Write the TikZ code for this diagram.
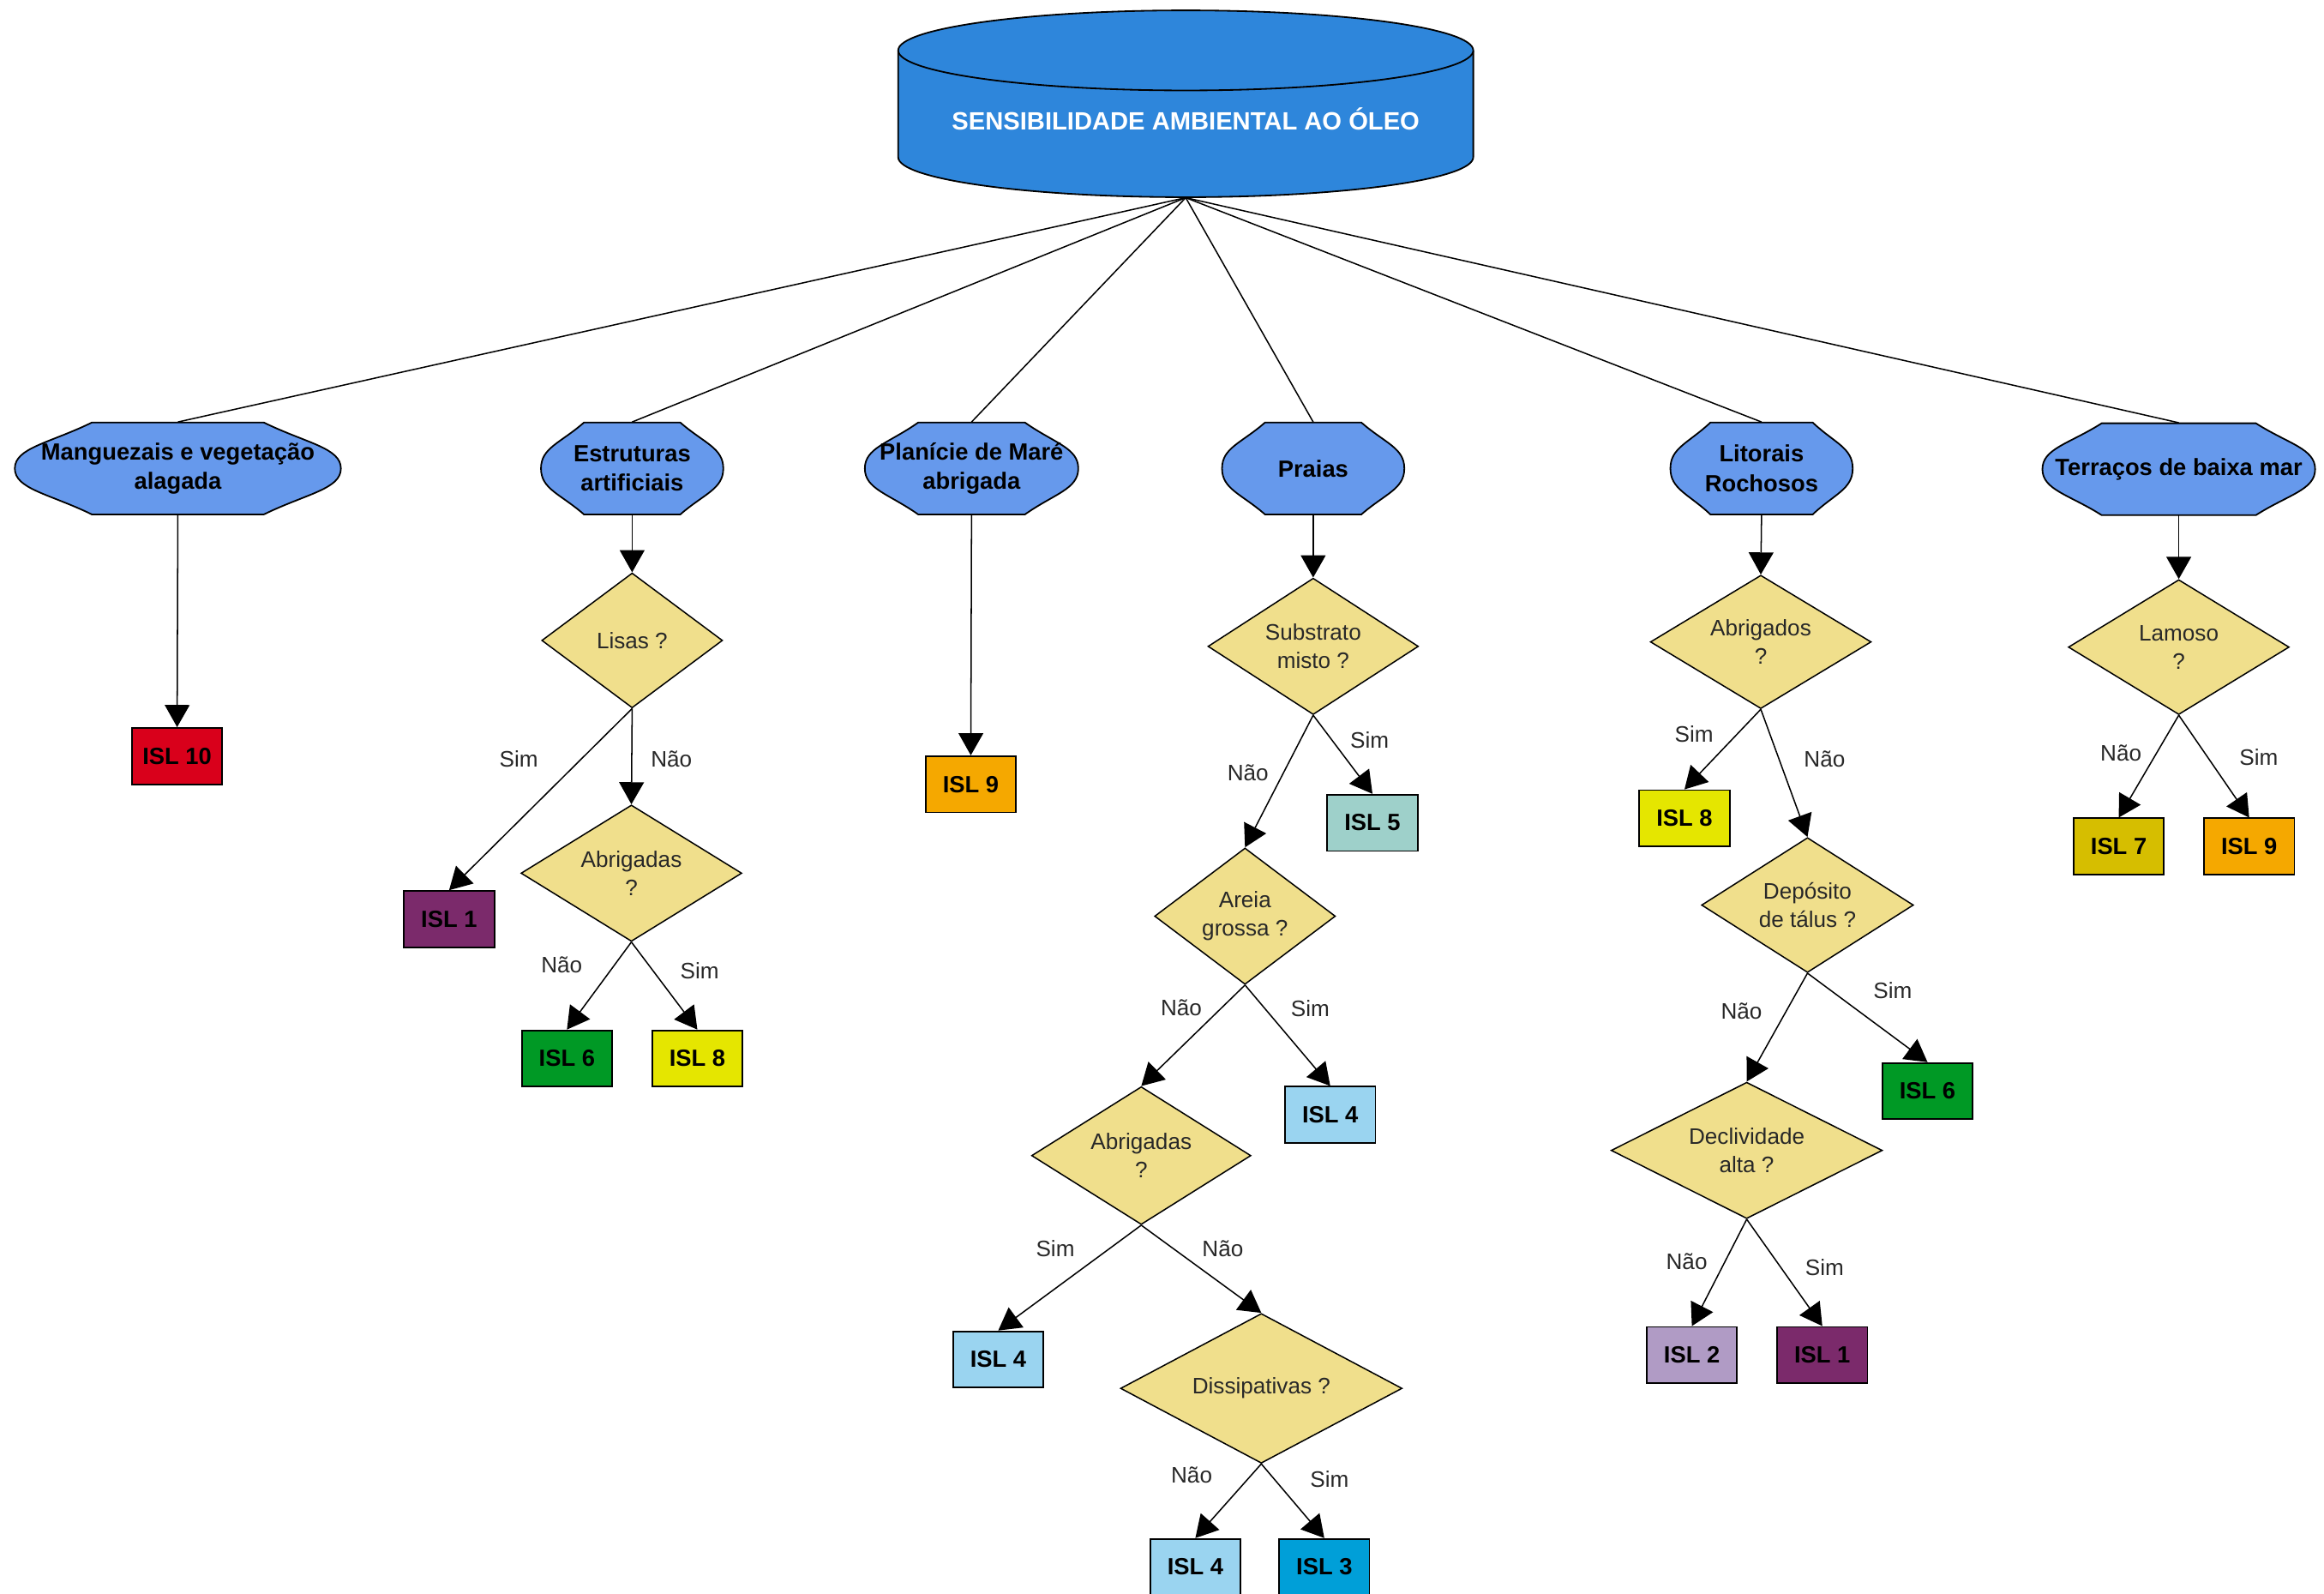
\documentclass[tikz,border=0pt]{standalone}
\usepackage{fontspec}
\setmainfont{Liberation Sans}
\usetikzlibrary{shapes.geometric,arrows.meta}
\definecolor{cyl}{RGB}{46,134,219}
\definecolor{lvl}{RGB}{102,153,236}
\definecolor{dia}{RGB}{240,223,140}
\definecolor{cred}{RGB}{217,0,27}
\definecolor{cpurple}{RGB}{123,42,107}
\definecolor{cgreen}{RGB}{0,153,37}
\definecolor{cyellow}{RGB}{229,230,0}
\definecolor{corange}{RGB}{245,168,0}
\definecolor{cteal}{RGB}{158,208,202}
\definecolor{clblue}{RGB}{154,212,240}
\definecolor{cblue}{RGB}{0,159,216}
\definecolor{clav}{RGB}{176,155,197}
\definecolor{cdyellow}{RGB}{214,190,0}
\definecolor{txtgray}{RGB}{40,40,40}

\newcommand\hexpath[5]{%
 \filldraw[hexshape] (#1-#3+#5,#2-#4) -- (#1+#3-#5,#2-#4)
   .. controls (#1+#3-#5*0.45,#2-#4*0.55) and (#1+#3,#2-#4*0.45) .. (#1+#3,#2)
   .. controls (#1+#3,#2+#4*0.45) and (#1+#3-#5*0.45,#2+#4*0.55) .. (#1+#3-#5,#2+#4)
   -- (#1-#3+#5,#2+#4)
   .. controls (#1-#3+#5*0.45,#2+#4*0.55) and (#1-#3,#2+#4*0.45) .. (#1-#3,#2)
   .. controls (#1-#3,#2-#4*0.45) and (#1-#3+#5*0.45,#2-#4*0.55) .. cycle;}

\tikzset{
 hexshape/.style={draw=black, fill=lvl, line width=0.6pt},
 lvltext/.style={inner sep=0pt, align=center, font=\fontsize{9}{11.3}\selectfont\bfseries},
 hsz/.style={minimum width=#1*0.02cm, minimum height=62*0.02cm},
 question/.style={diamond, draw=black, fill=dia, line width=0.5pt, aspect=1.6, inner sep=0pt, align=center, text=txtgray, font=\fontsize{8.6}{10.8}\selectfont},
 dsz/.style 2 args={minimum width=#1*0.02cm, minimum height=#2*0.02cm},
 islbox/.style={rectangle, draw=black, line width=0.6pt, minimum width=1.22cm, minimum height=0.76cm, inner sep=0pt, font=\fontsize{9}{11}\selectfont\bfseries},
 lbl/.style={inner sep=0pt, text=txtgray, font=\fontsize{8.6}{10}\selectfont},
 conn/.style={line width=0.5pt},
 arr/.style={line width=0.5pt, -{Triangle[length=8.5pt,width=9.5pt]}},
}

\begin{document}
\begin{tikzpicture}[x=0.02cm,y=-0.02cm]
\fill[white] (0,0) rectangle (1568,1075);
\useasboundingbox (0,0) rectangle (1568,1075);

% cylinder
\fill[cyl] (606,34) -- (606,106) arc[start angle=180,end angle=0,x radius=194,y radius=27] -- (994,34) -- cycle;
\draw[line width=0.6pt] (606,34) -- (606,106) arc[start angle=180,end angle=0,x radius=194,y radius=27] -- (994,34);
\filldraw[fill=cyl, line width=0.6pt] (800,34) ellipse [x radius=194, y radius=27];
\node[inner sep=0pt, text=white, font=\fontsize{9.6}{11}\selectfont\bfseries, minimum width=388*0.02cm, minimum height=106*0.02cm] (top) at (800,80) {SENSIBILIDADE AMBIENTAL AO ÓLEO};

% level 1
\hexpath{120}{316}{110}{31}{52}
\node[lvltext, hsz=220] (mang) at (120,316) {Manguezais e vegetação\\alagada};
\hexpath{426.5}{316}{61.5}{31}{29}
\node[lvltext, hsz=123] (estr) at (426.5,316) {Estruturas\\artificiais};
\hexpath{655.5}{316}{72}{31}{36}
\node[lvltext, hsz=144] (plan) at (655.5,316) {Planície de Maré\\abrigada};
\hexpath{886}{316}{61.5}{31}{29}
\node[lvltext, hsz=123] (praias) at (886,316) {Praias};
\hexpath{1188.5}{316}{61.5}{31}{27}
\node[lvltext, hsz=123] (lit) at (1188.5,316) {Litorais\\Rochosos};
\hexpath{1470}{316.5}{92}{31}{40}
\node[lvltext, hsz=184] (terr) at (1470,316.5) {Terraços de baixa mar};

\foreach \n in {mang,estr,plan,praias,lit,terr} \draw[conn] (top.south) -- (\n.north);

% questions
\node[question, dsz={122}{91}] (lisas) at (426.5,432) {Lisas ?};
\node[question, dsz={149}{92}] (abr1) at (426,589) {Abrigadas\\?};
\node[question, dsz={142}{92}] (subs) at (886,436) {Substrato\\misto ?};
\node[question, dsz={122}{92}] (areia) at (840,618) {Areia\\grossa ?};
\node[question, dsz={148}{93}] (abr2) at (770,779.5) {Abrigadas\\?};
\node[question, dsz={190}{101}] (diss) at (851,936.5) {Dissipativas ?};
\node[question, dsz={149}{90}] (abrs) at (1188,433) {Abrigados\\?};
\node[question, dsz={143}{91}] (depo) at (1219.5,610.5) {Depósito\\de tálus ?};
\node[question, dsz={183}{92}] (decl) at (1178.5,776) {Declividade\\alta ?};
\node[question, dsz={149}{91}] (lam) at (1470,436.5) {Lamoso\\?};

% ISL boxes
\node[islbox, fill=cred] (isl10) at (119.5,510) {ISL 10};
\node[islbox, fill=cpurple] (isl1a) at (303,620) {ISL 1};
\node[islbox, fill=cgreen] (isl6a) at (382.5,714) {ISL 6};
\node[islbox, fill=cyellow] (isl8a) at (470.5,714) {ISL 8};
\node[islbox, fill=corange] (isl9a) at (655,529) {ISL 9};
\node[islbox, fill=cteal] (isl5) at (926,555) {ISL 5};
\node[islbox, fill=clblue] (isl4a) at (897.5,752) {ISL 4};
\node[islbox, fill=clblue] (isl4b) at (673.5,917) {ISL 4};
\node[islbox, fill=clblue] (isl4c) at (806.5,1057) {ISL 4};
\node[islbox, fill=cblue] (isl3) at (893.5,1057) {ISL 3};
\node[islbox, fill=cyellow] (isl8b) at (1136.5,552) {ISL 8};
\node[islbox, fill=cgreen] (isl6b) at (1300.5,736) {ISL 6};
\node[islbox, fill=clav] (isl2) at (1141.5,914) {ISL 2};
\node[islbox, fill=cpurple] (isl1b) at (1229.5,914) {ISL 1};
\node[islbox, fill=cdyellow] (isl7) at (1429.5,571) {ISL 7};
\node[islbox, fill=corange] (isl9b) at (1517.5,571) {ISL 9};

% arrows
\draw[arr] (mang.south) -- (isl10.north);
\draw[arr] (estr.south) -- (lisas.north);
\draw[arr] (lisas.south) -- (isl1a.north);
\draw[arr] (lisas.south) -- (abr1.north);
\draw[arr] (abr1.south) -- (isl6a.north);
\draw[arr] (abr1.south) -- (isl8a.north);
\draw[arr] (plan.south) -- (isl9a.north);
\draw[arr] (praias.south) -- (subs.north);
\draw[arr] (subs.south) -- (isl5.north);
\draw[arr] (subs.south) -- (areia.north);
\draw[arr] (areia.south) -- (isl4a.north);
\draw[arr] (areia.south) -- (abr2.north);
\draw[arr] (abr2.south) -- (isl4b.north);
\draw[arr] (abr2.south) -- (diss.north);
\draw[arr] (diss.south) -- (isl4c.north);
\draw[arr] (diss.south) -- (isl3.north);
\draw[arr] (lit.south) -- (abrs.north);
\draw[arr] (abrs.south) -- (isl8b.north);
\draw[arr] (abrs.south) -- (depo.north);
\draw[arr] (depo.south) -- (isl6b.north);
\draw[arr] (depo.south) -- (decl.north);
\draw[arr] (decl.south) -- (isl2.north);
\draw[arr] (decl.south) -- (isl1b.north);
\draw[arr] (terr.south) -- (lam.north);
\draw[arr] (lam.south) -- (isl7.north);
\draw[arr] (lam.south) -- (isl9b.north);

% labels
\node[lbl] (l1) at (350,512) {Sim};
\node[lbl] (l2) at (453,512) {Não};
\node[lbl] (l3) at (379,651) {Não};
\node[lbl] (l4) at (472,655) {Sim};
\node[lbl] (l5) at (842,521) {Não};
\node[lbl] (l6) at (924,499) {Sim};
\node[lbl] (l7) at (797,680) {Não};
\node[lbl] (l8) at (884,680) {Sim};
\node[lbl] (l9) at (712,842) {Sim};
\node[lbl] (l10) at (825,842) {Não};
\node[lbl] (l11) at (804,995) {Não};
\node[lbl] (l12) at (897,998) {Sim};
\node[lbl] (l13) at (1143,495) {Sim};
\node[lbl] (l14) at (1231,512) {Não};
\node[lbl] (l15) at (1175,682) {Não};
\node[lbl] (l16) at (1277,668) {Sim};
\node[lbl] (l17) at (1138,851) {Não};
\node[lbl] (l18) at (1231,855) {Sim};
\node[lbl] (l19) at (1431,508) {Não};
\node[lbl] (l20) at (1524,511) {Sim};
\end{tikzpicture}
\end{document}
